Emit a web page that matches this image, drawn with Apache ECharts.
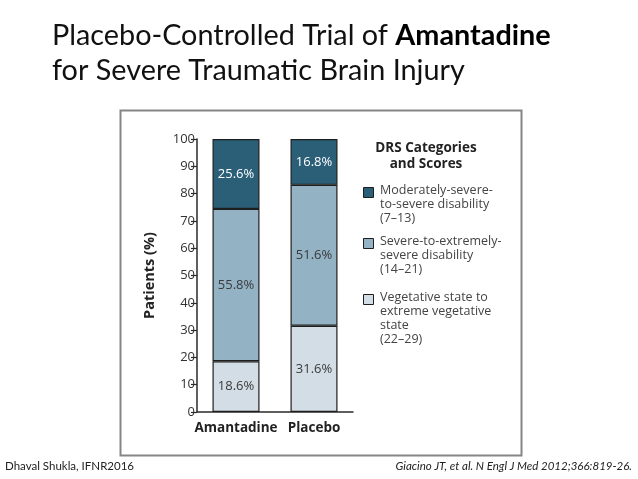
<!DOCTYPE html>
<html><head><meta charset="utf-8">
<script src="https://cdn.jsdelivr.net/npm/echarts@6/dist/echarts.min.js"></script>
<style>html,body{margin:0;padding:0;background:#fff}#c{width:638px;height:479px}</style>
</head><body><div id="c"></div>
<script>
const categories = ['Amantadine', 'Placebo'];
const vegetative = [18.6, 31.6];
const severeExtreme = [55.8, 51.6];
const moderateSevere = [25.6, 16.8];
const yTicks = [0, 10, 20, 30, 40, 50, 60, 70, 80, 90, 100];
const seriesNames = [
  'Vegetative state to\nextreme vegetative\nstate\n(22–29)',
  'Severe-to-extremely-\nsevere disability\n(14–21)',
  'Moderately-severe-\nto-severe disability\n(7–13)'
];
const seriesColors = ['#d3dde5', '#93b2c4', '#2b5f78'];
const seriesData = [vegetative, severeExtreme, moderateSevere];
const labelColors = ['#3a3a3a', '#3a3a3a', '#ffffff'];
const legendTitle = 'DRS Categories\nand Scores';

const FONT = 'Open Sans';
const chart = echarts.init(document.getElementById('c'));

const series = seriesData.map((d, i) => ({
  name: seriesNames[i],
  type: 'bar',
  stack: 'all',
  data: d,
  barWidth: 47,
  itemStyle: { color: seriesColors[i], borderColor: '#1e1e1e', borderWidth: 1.2 },
  label: {
    show: true, position: 'inside',
    formatter: p => p.value.toFixed(1) + '%',
    color: labelColors[i], fontFamily: FONT, fontSize: 13
  }
}));

const legendGraphics = [];
const legendTops = [187, 238, 294];
const order = [2, 1, 0];
order.forEach((si, k) => {
  legendGraphics.push({
    type: 'rect', left: 363, top: legendTops[k],
    shape: { width: 10, height: 10 },
    style: { fill: seriesColors[si], stroke: '#1e1e1e', lineWidth: 1 }
  });
  legendGraphics.push({
    type: 'text', left: 380, top: legendTops[k] - 4,
    style: { text: seriesNames[si], font: '12.5px "' + FONT + '"', fill: '#444', lineHeight: 14 }
  });
});

chart.setOption({
  animation: false,
  grid: { left: 197, right: 285, top: 139, bottom: 67 },
  xAxis: {
    type: 'category', data: categories,
    axisLine: { lineStyle: { color: '#2a2a2a', width: 1.5 } },
    axisTick: { show: false },
    axisLabel: { interval: 0, hideOverlap: false, color: '#222', fontFamily: FONT, fontSize: 13.5, fontWeight: 'bold', margin: 9 }
  },
  yAxis: {
    type: 'value', min: 0, max: 100, interval: 10,
    name: 'Patients (%)', nameLocation: 'middle', nameRotate: 90, nameGap: 40,
    nameTextStyle: { color: '#222', fontFamily: FONT, fontSize: 14.5, fontWeight: 'bold' },
    axisLine: { show: true, lineStyle: { color: '#2a2a2a', width: 1.5 } },
    axisTick: { show: true, length: 6, lineStyle: { color: '#2a2a2a', width: 1.2 } },
    axisLabel: { color: '#333', fontFamily: FONT, fontSize: 13, margin: 2,
      formatter: v => yTicks.includes(v) ? String(v) : '' },
    splitLine: { show: false }
  },
  series: series,
  graphic: [
    { type: 'rect', left: 118, top: 108, shape: { width: 401, height: 345 },
      style: { fill: 'none', stroke: '#858585', lineWidth: 2 }, z: 0 },
    { type: 'text', left: 52, top: 21,
      style: { rich: { r: { font: '28.8px Lato', fill: '#111' }, b: { font: 'bold 28.8px Lato', fill: '#000' } },
        text: '{r|Placebo-Controlled Trial of }{b|Amantadine}' } },
    { type: 'text', left: 52, top: 56,
      style: { text: 'for Severe Traumatic Brain Injury', font: '28.8px Lato', fill: '#111' } },
    { type: 'text', x: 426, y: 140,
      style: { text: legendTitle, font: 'bold 13.5px "' + FONT + '"', fill: '#222', textAlign: 'center', lineHeight: 16 } },
    ...legendGraphics,
    { type: 'text', left: 5, top: 460,
      style: { text: 'Dhaval Shukla, IFNR2016', font: '11.5px Lato', fill: '#222' } },
    { type: 'text', right: 6, top: 460,
      style: { text: 'Giacino JT, et al. N Engl J Med 2012;366:819-26.', font: 'italic 11.5px Lato', fill: '#222' } }
  ]
});
</script></body></html>
